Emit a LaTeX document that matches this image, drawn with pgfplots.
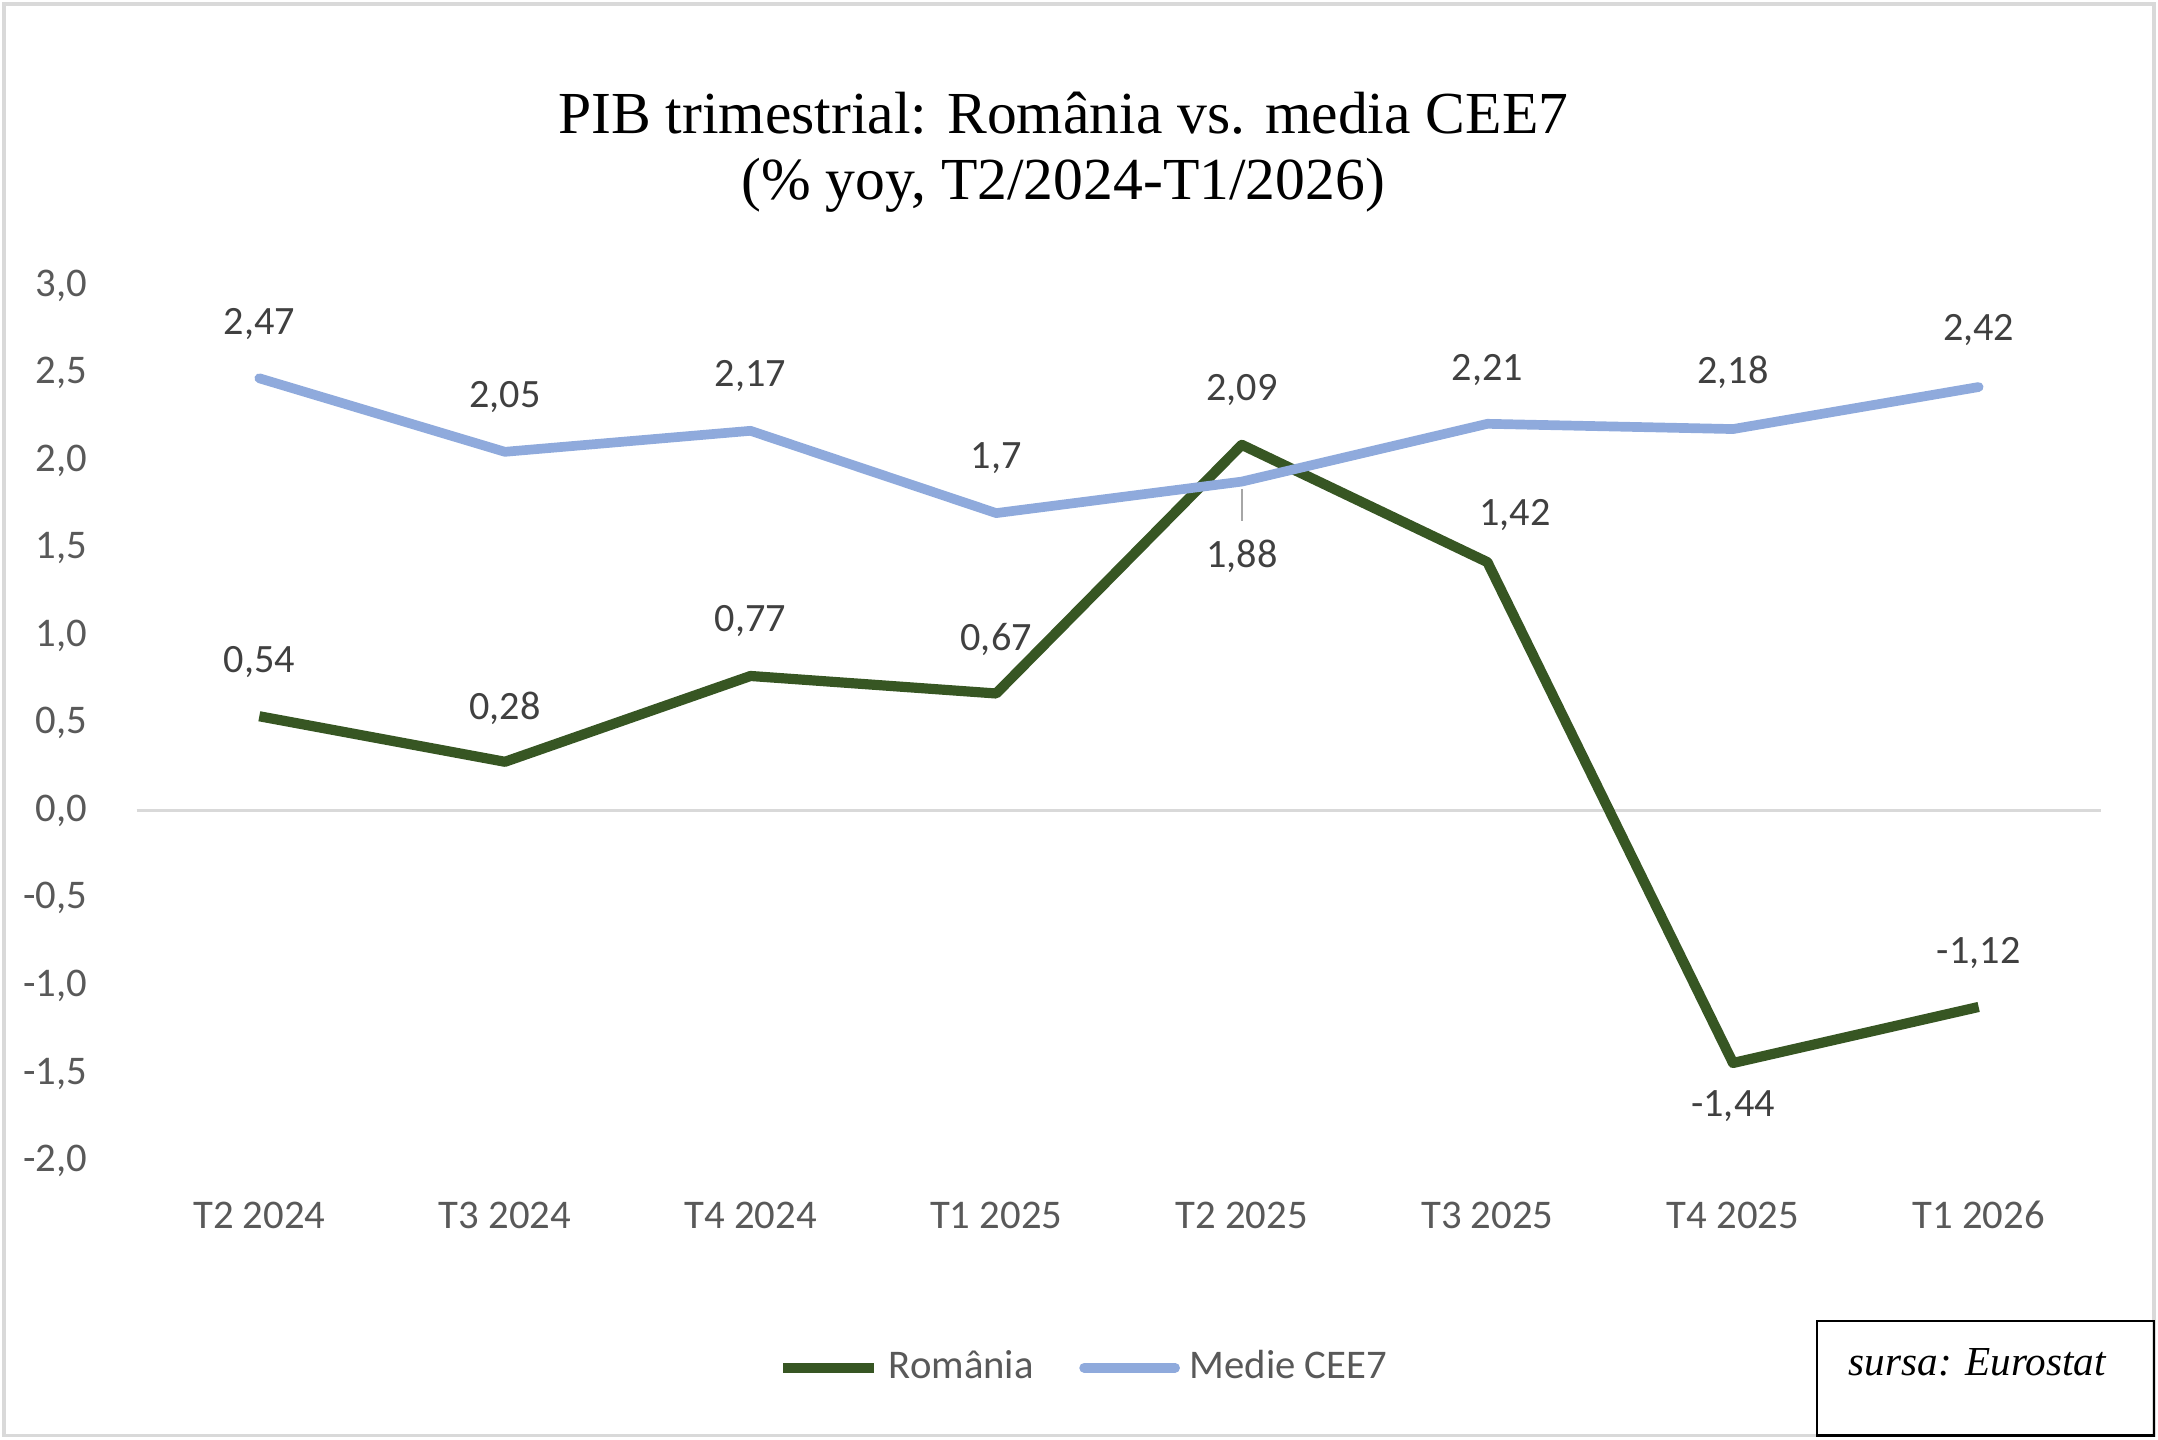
\documentclass[border=0pt]{standalone}
\usepackage{pgfplots}
\pgfplotsset{compat=1.18}
\usepackage{pgfplotstable}
\usepackage{fontspec}
\setmainfont{Liberation Serif}
\newfontfamily\carlito{Carlito}
\definecolor{rogreen}{HTML}{375623}
\definecolor{ceeblue}{HTML}{8FAADC}
\definecolor{ticktxt}{HTML}{595959}
\definecolor{labtxt}{HTML}{404040}
\definecolor{bordergray}{HTML}{D9D9D9}

\pgfplotstableread{
x y dx dy
0 0.54 0 11.1
1 0.28 0 11.1
2 0.77 0 11.4
3 0.67 0 11.1
4 2.09 0 11.4
5 1.42 5.7 9.7
6 -1.44 0 -8.8
7 -1.12 0 11.1
}\romania

\pgfplotstableread{
x y dx dy
0 2.47 0 11.1
1 2.05 0 11.4
2 2.17 0 11.4
3 1.70 0 11.4
4 1.88 0 -15.4
5 2.21 0 11.1
6 2.18 0 11.7
7 2.42 0 11.7
}\cee

\begin{document}
\begin{tikzpicture}
\useasboundingbox (0,0) rectangle (156.5mm,104.4mm);
\draw[bordergray, line width=0.25mm] (0.3mm,0.3mm) rectangle (156.2mm,104.1mm);
% title
\node[anchor=base, font=\fontsize{12.3}{15}\selectfont] at (77.1mm,94.7mm) {PIB trimestrial: România vs. media CEE7};
\node[anchor=base, font=\fontsize{12.3}{15}\selectfont] at (77.1mm,89.95mm) {(\% yoy, T2/2024-T1/2026)};
% source box
\draw[black, line width=0.15mm] (131.8mm,0.3mm) rectangle (156.2mm,8.6mm);
\node[font=\fontsize{8.5}{10}\selectfont\itshape] at (143.4mm,5.6mm) {sursa: Eurostat};

\begin{axis}[
  at={(9.9mm,20.2mm)}, anchor=south west,
  scale only axis, width=142.5mm, height=63.5mm,
  xmin=-0.5, xmax=7.5, ymin=-2, ymax=3,
  clip=false,
  axis line style={draw=none},
  tick style={draw=none},
  major tick length=0pt,
  xtick={0,...,7},
  xticklabels={T2 2024,T3 2024,T4 2024,T1 2025,T2 2025,T3 2025,T4 2025,T1 2026},
  ytick={-2,-1.5,...,3},
  extra y ticks={0},
  extra y tick labels={},
  extra y tick style={grid=major, major grid style={bordergray, line width=0.2mm}},
  /pgf/number format/assume math mode=true,
  tick label style={font=\carlito\fontsize{8.4}{10}\selectfont, text=ticktxt, inner sep=0pt},
  yticklabel style={anchor=east, xshift=-3.5mm, /pgf/number format/.cd, fixed, fixed zerofill, precision=1, use comma},
  xticklabel style={anchor=base, yshift=-4.9mm},
  legend style={at={(0.484,-0.236)}, anchor=center, draw=none, fill=none,
    font=\carlito\fontsize{8.4}{10}\selectfont, text=ticktxt, legend columns=2,
    /tikz/every even column/.append style={column sep=2.6mm}, inner sep=0pt,
    nodes={inner sep=0.7mm}},
  legend cell align=left,
  legend image code/.code={\draw[#1, line width=2pt] (0mm,0mm) -- (6.6mm,0mm);},
  nodes near coords,
  visualization depends on={\thisrow{dx} \as \dx},
  visualization depends on={\thisrow{dy} \as \dy},
  nodes near coords style={anchor=center, xshift=\dx pt, yshift=\dy pt,
    font=\carlito\fontsize{8.3}{10}\selectfont, text=labtxt, inner sep=0pt,
    /pgf/number format/.cd, fixed, precision=2, use comma, assume math mode=true},
]
\addplot[rogreen, line width=2.1pt, line join=round, mark=none] table[x=x, y=y] {\romania};
\addlegendentry{România}
\addplot[ceeblue, line width=2pt, line join=round, line cap=round, mark=none] table[x=x, y=y] {\cee};
\addlegendentry{Medie CEE7}
\draw[gray!70, line width=0.15mm] (axis cs:4,1.835) -- (axis cs:4,1.654);
\end{axis}
\end{tikzpicture}
\end{document}
